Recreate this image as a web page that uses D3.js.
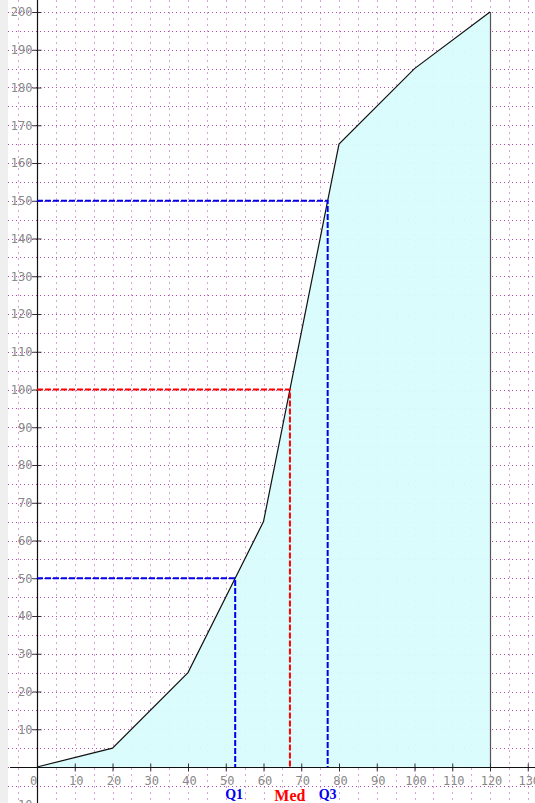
<!DOCTYPE html>
<html>
<head>
<meta charset="utf-8">
<script src="https://cdn.jsdelivr.net/npm/d3@7/dist/d3.min.js"></script>
<style>
body { margin: 0; background: #efefef; overflow: hidden; }
#chart { margin-left: 8px; }
svg { display: block; background: #fff; }
.tick text { font-family: "DejaVu Sans Mono", monospace; font-size: 12px; fill: #888; }
</style>
</head>
<body>
<div id="chart"></div>
<script>
// cumulative frequency data
var upperBounds = [0, 20, 40, 60, 80, 100, 120];
var cumFreq = [0, 5, 25, 65, 165, 185, 200];

// quartiles
var quartileNames = ['Q1', 'Med', 'Q3'];
var quartileFreqs = [50, 100, 150];
var quartileVals = [52.5, 67, 77];
var quartileColors = ['#0000ee', '#ff0000', '#0000ee'];

var xTickVals = d3.range(0, 140, 10);
var yTickVals = [-10, 10, 20, 30, 40, 50, 60, 70, 80, 90, 100, 110, 120, 130, 140, 150, 160, 170, 180, 190, 200];

var w = 527;
var h = 803;

var svg = d3.select('#chart')
            .append('svg')
            .attr('width', w)
            .attr('height', h);

var x = d3.scaleLinear().domain([0, 120]).range([29, 482]);
var y = d3.scaleLinear().domain([0, 200]).range([767, 12]);

// dotted grid every 5 units
var grid = svg.append('g');
grid.selectAll('line.v')
    .data(d3.range(-5, 135, 5))
    .enter()
    .append('line')
    .attr('class', 'v')
    .attr('x1', function(d) { return Math.round(x(d)) + 0.5; })
    .attr('x2', function(d) { return Math.round(x(d)) + 0.5; })
    .attr('y1', 0)
    .attr('y2', h)
    .style('stroke', '#d9a3d9')
    .style('stroke-width', 1)
    .style('stroke-dasharray', '2,4');

grid.selectAll('line.h')
    .data(d3.range(-10, 205, 5))
    .enter()
    .append('line')
    .attr('class', 'h')
    .attr('x1', 0)
    .attr('x2', w)
    .attr('y1', function(d) { return Math.round(y(d)) + 0.5; })
    .attr('y2', function(d) { return Math.round(y(d)) + 0.5; })
    .style('stroke', '#b248b2')
    .style('stroke-width', 1)
    .style('stroke-dasharray', '1,3');

var pts = upperBounds.map(function(d, i) { return [d, cumFreq[i]]; });

// shaded area under the ogive
var area = d3.area()
             .x(function(d) { return x(d[0]); })
             .y0(y(0))
             .y1(function(d) { return y(d[1]); });

svg.append('path')
   .datum(pts)
   .attr('d', area)
   .style('fill', '#d9fcfc')
   .style('fill-opacity', 0.95);

// closing line at the last bound
svg.append('line')
   .attr('x1', x(120) + 0.5)
   .attr('x2', x(120) + 0.5)
   .attr('y1', y(200))
   .attr('y2', y(0))
   .style('stroke', '#555')
   .style('stroke-width', 1.2);

// axes
var xAxis = d3.axisBottom(x)
              .tickValues(xTickVals)
              .tickSize(0)
              .tickPadding(9)
              .tickFormat(d3.format('d'));

var yAxis = d3.axisLeft(y)
              .tickValues(yTickVals)
              .tickSize(0)
              .tickPadding(5)
              .tickFormat(d3.format('d'));

var gx = svg.append('g')
            .attr('transform', 'translate(0,' + (y(0) + 0.5) + ')')
            .call(xAxis);
gx.select('.domain').remove();
gx.selectAll('.tick line')
  .attr('y1', -4)
  .attr('y2', 4)
  .style('stroke', '#333');
gx.selectAll('.tick text')
  .attr('dy', '0.71em')
  .attr('dx', function(d) { return d === 0 ? -4 : 1; });

var gy = svg.append('g')
            .attr('transform', 'translate(' + (x(0) + 0.5) + ',0)')
            .call(yAxis);
gy.select('.domain').remove();
gy.selectAll('.tick line')
  .attr('x1', -5)
  .attr('x2', 4)
  .style('stroke', '#333');

svg.append('line')
   .attr('x1', 2)
   .attr('x2', w)
   .attr('y1', y(0) + 0.5)
   .attr('y2', y(0) + 0.5)
   .style('stroke', '#111')
   .style('stroke-width', 1.2);

svg.append('line')
   .attr('x1', x(0) + 0.5)
   .attr('x2', x(0) + 0.5)
   .attr('y1', 0)
   .attr('y2', h)
   .style('stroke', '#111')
   .style('stroke-width', 1.2);

// the ogive
var line = d3.line()
             .x(function(d) { return x(d[0]); })
             .y(function(d) { return y(d[1]); });

svg.append('path')
   .datum(pts)
   .attr('d', line)
   .style('fill', 'none')
   .style('stroke', '#111')
   .style('stroke-width', 1.2);

// quartile guide lines
var q = svg.append('g');
quartileNames.forEach(function(name, i) {
    var qx = x(quartileVals[i]);
    var qy = y(quartileFreqs[i]);
    q.append('path')
     .attr('d', 'M' + x(0) + ',' + qy + 'H' + qx + 'V' + y(0))
     .style('fill', 'none')
     .style('stroke', quartileColors[i])
     .style('stroke-width', 2)
     .style('stroke-dasharray', '6,2');
    q.append('text')
     .attr('x', qx - (i === 0 ? 1 : 0))
     .attr('y', name === 'Med' ? 801 : 799)
     .attr('text-anchor', 'middle')
     .style('font-family', '"Liberation Serif", "DejaVu Serif", serif')
     .style('font-weight', 'bold')
     .style('font-size', name === 'Med' ? '16px' : '14px')
     .style('fill', quartileColors[i])
     .text(name);
});
</script>
</body>
</html>
